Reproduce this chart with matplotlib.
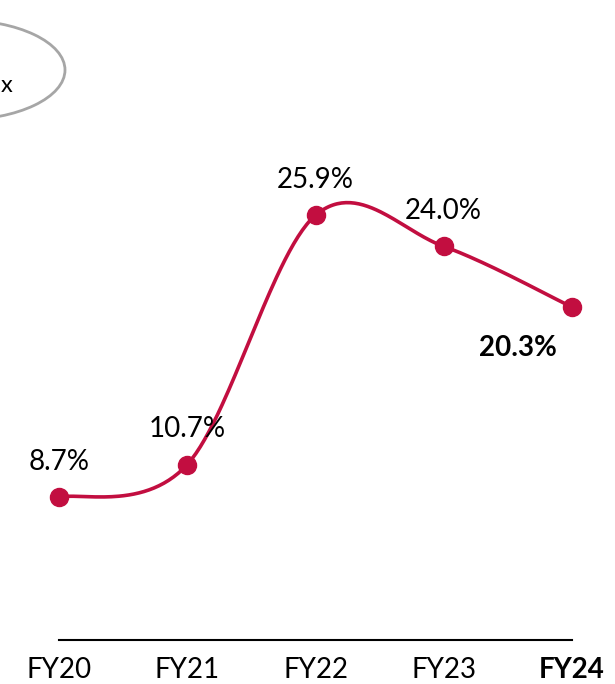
import numpy as np
import matplotlib.pyplot as plt
from matplotlib.patches import Ellipse

# 各财年数据
years = ['FY20', 'FY21', 'FY22', 'FY23', 'FY24']
values = [8.7, 10.7, 25.9, 24.0, 20.3]
labels = ['8.7%', '10.7%', '25.9%', '24.0%', '20.3%']

RED = '#C20E40'
plt.rcParams['font.family'] = ['Lato', 'DejaVu Sans']

fig = plt.figure(figsize=(6.15, 6.84), dpi=100)
ax = fig.add_axes([59 / 615, 44 / 684, 513 / 615, 540 / 684])
ax.set_xlim(0, 4)
ax.set_ylim(0, 540 / 16.4)

# 平滑曲线（类似 Excel 的平滑线），在屏幕比例下计算贝塞尔控制点
x = np.arange(len(values), dtype=float)
y = np.array(values, dtype=float)
sx, sy = 128.25, 16.4
P = np.column_stack([x * sx, y * sy])
Pext = np.vstack([P[0], P, P[-1]])
curve = []
t = np.linspace(0, 1, 60)[:, None]
for i in range(len(P) - 1):
    p0, p1, p2, p3 = Pext[i], Pext[i + 1], Pext[i + 2], Pext[i + 3]
    c1 = p1 + (p2 - p0) / 6
    c2 = p2 - (p3 - p1) / 6
    seg = ((1 - t) ** 3) * p1 + 3 * ((1 - t) ** 2) * t * c1 + 3 * (1 - t) * t ** 2 * c2 + t ** 3 * p2
    curve.append(seg)
curve = np.vstack(curve)
ax.plot(curve[:, 0] / sx, curve[:, 1] / sy, color=RED, lw=2.6, clip_on=False, zorder=2)
ax.plot(x, y, 'o', color=RED, ms=13, clip_on=False, zorder=3)

# 数据标签
for i, (v, lab) in enumerate(zip(values, labels)):
    if i == len(values) - 1:
        ax.annotate(lab, (i, v), xytext=(-39, -29.5), textcoords='offset points',
                    ha='center', va='center', fontsize=20, fontweight='bold')
    else:
        ax.annotate(lab, (i, v), xytext=(0, 25.5), textcoords='offset points',
                    ha='center', va='center', fontsize=20)

# 坐标轴
for s in ['top', 'right', 'left']:
    ax.spines[s].set_visible(False)
ax.spines['bottom'].set_linewidth(1.5)
ax.spines['bottom'].set_color('black')
ax.set_yticks([])
ax.set_xticks(x)
ax.set_xticklabels(years, fontsize=20)
ax.get_xticklabels()[-1].set_fontweight('bold')
ax.tick_params(axis='x', length=0, pad=12)

# 左上角的椭圆标注
fig.patches.append(Ellipse((-40 / 615, 1 - 70 / 684), 210 / 615, 100 / 684,
                           transform=fig.transFigure, fill=False,
                           edgecolor='#A6A6A6', lw=2))
fig.text(1 / 615, 1 - 86 / 684, 'x', ha='left', va='center', fontsize=17)

fig.savefig('out.png', dpi=100)
